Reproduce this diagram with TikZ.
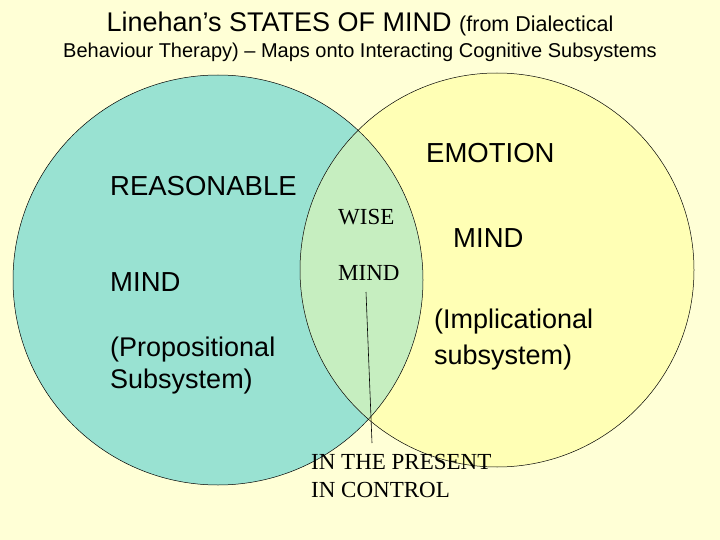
\documentclass[tikz,border=0pt]{standalone}
\usepackage{fontspec}
\setmainfont{Liberation Sans}
\newfontfamily\serifx{Liberation Serif}
\definecolor{bg}{HTML}{FFFFD6}
\definecolor{teal}{HTML}{99E2D2}
\definecolor{yel}{HTML}{FFFFB5}
\definecolor{lens}{HTML}{C6EEC0}
\begin{document}
\begin{tikzpicture}[x=1pt,y=-1pt,
  lab/.style={anchor=west,font=\fontsize{27.5}{33}\selectfont,align=left,inner sep=0},
  slab/.style={anchor=west,font=\serifx\fontsize{23}{28}\selectfont,align=left,inner sep=0}]
\useasboundingbox[fill=bg] (0,0) rectangle (720,540);
\fill[teal] (218,280) circle (205);
\fill[yel] (497,270) circle (197);
\begin{scope}
\clip (218,280) circle (205);
\fill[lens] (497,270) circle (197);
\end{scope}
\draw[line width=0.5pt] (218,280) circle (205);
\draw[line width=0.5pt] (497,270) circle (197);
\node[font=\fontsize{27}{30}\selectfont] (t1) at (360,24) {Linehan’s STATES OF MIND {\fontsize{21.5}{24}\selectfont(from Dialectical}};
\node[font=\fontsize{20}{24}\selectfont] (t2) at (360,52) {Behaviour Therapy) – Maps onto Interacting Cognitive Subsystems};
\node[lab] (r1) at (110,186) {REASONABLE};
\node[lab] (r2) at (110,282) {MIND};
\node[lab,font=\fontsize{27}{32}\selectfont] (r3) at (110,366) {(Propositional\\Subsystem)};
\node[lab] (e1) at (426,153) {EMOTION};
\node[lab] (e2) at (453,238) {MIND};
\node[lab,font=\fontsize{27}{36}\selectfont] (e3) at (434,340) {(Implicational\\subsystem)};
\node[slab] (w1) at (338,217) {WISE};
\node[slab] (w2) at (338,273) {MIND};
\node[slab] (p) at (311,476) {IN THE PRESENT\\IN CONTROL};
\coordinate (a) at (366,292);
\coordinate (b) at (372,443);
\draw[line width=0.6pt] (a) -- (b);
\end{tikzpicture}
\end{document}
